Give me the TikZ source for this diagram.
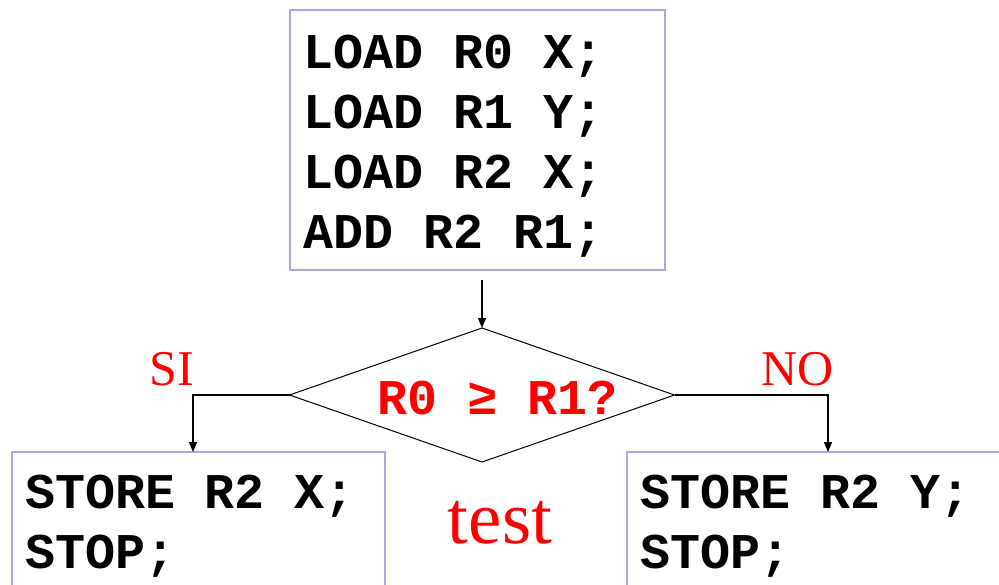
\documentclass[tikz,border=0pt]{standalone}
\usepackage{fontspec}
\setmainfont{Liberation Serif}
\setmonofont{Liberation Mono}
\usetikzlibrary{shapes.geometric,arrows.meta}
\definecolor{boxblue}{RGB}{170,170,220}
\definecolor{txtred}{RGB}{255,0,0}
\newcommand\setcodespace{\spaceskip=30pt\relax}
\begin{document}
\begin{tikzpicture}[x=1pt,y=-1pt,
  codebox/.style={draw=boxblue, line width=1.1pt, inner xsep=13pt, inner ysep=0pt,
    outer sep=0pt, anchor=north west, align=left,
    font=\fontsize{50}{60}\selectfont\ttfamily\bfseries},
  decision/.style={diamond, draw, line width=1pt, inner sep=0pt, outer sep=0pt,
    minimum width=385pt, minimum height=134pt},
  arr/.style={-{Triangle[length=10pt,width=8pt]}, line width=1.2pt},
  redlabel/.style={text=txtred, inner sep=0pt, anchor=base,
    font=\fontsize{50}{60}\selectfont},
]
\useasboundingbox (0,0) rectangle (999,584);
\clip (0,0) rectangle (999,584);

\node[codebox, text width=349pt] (top) at (290,10)
  {\setcodespace\rule{0pt}{58pt}LOAD R0 X;\\LOAD R1 Y;\\LOAD R2 X;\\ADD R2 R1;\rule[-22pt]{0pt}{22pt}};

\node[decision] (cond) at (482,395) {};
\node[text=txtred, inner sep=0pt, anchor=base,
  font=\fontsize{50}{60}\selectfont\ttfamily\bfseries] (condtext) at (498,414) {R0 ≥ R1?};

\node[codebox, text width=347pt] (leftbox) at (12,452)
  {\setcodespace\rule{0pt}{56pt}STORE R2 X;\\STOP;\rule[-45pt]{0pt}{45pt}};
\node[codebox, text width=376pt] (rightbox) at (627,452)
  {\setcodespace\rule{0pt}{56pt}STORE R2 Y;\\STOP;\rule[-45pt]{0pt}{45pt}};

\node[redlabel] (si) at (171.5,385) {SI};
\node[redlabel] (no) at (798,385) {NO};
\node[redlabel, font=\fontsize{75}{90}\selectfont] (test) at (500,543) {test};

\draw[arr, shorten <=10pt] (top.south -| cond.north) -- (cond.north);
\draw[arr] (cond.west) -| ([xshift=-5.5pt]leftbox.north);
\draw[arr] (cond.east) -| (rightbox.north);
\end{tikzpicture}
\end{document}
